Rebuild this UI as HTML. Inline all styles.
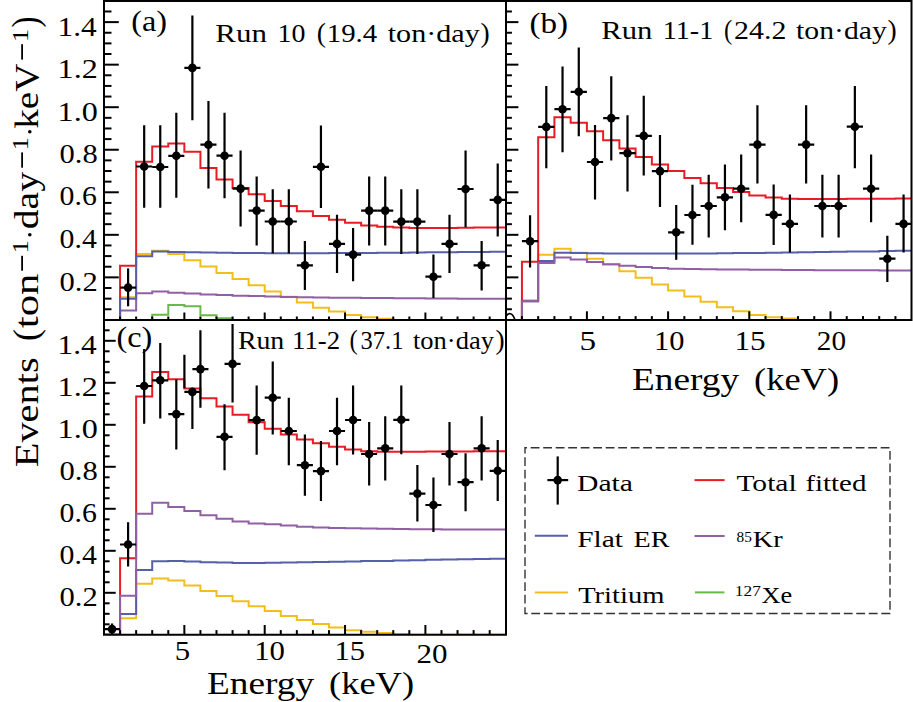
<!DOCTYPE html>
<html><head><meta charset="utf-8"><style>html,body{margin:0;padding:0;background:#fff;overflow:hidden;width:913px;height:702px;}svg{display:block;}text{font-family:"Liberation Serif",serif;}</style></head><body>
<svg width="913" height="702" viewBox="0 0 913 702">
<rect width="913" height="702" fill="#fff"/>
<defs><clipPath id="ca"><rect x="104" y="1" width="401.7" height="319"/></clipPath><clipPath id="cb"><rect x="505.7" y="1" width="405.8" height="319"/></clipPath><clipPath id="cc"><rect x="104" y="320" width="401.7" height="314.8"/></clipPath></defs>
<g clip-path="url(#ca)">
<path d="M104.00,319.90 L120.07,319.90 L120.07,319.90 L136.14,319.90 L136.14,319.90 L152.21,319.90 L152.21,314.80 L168.28,314.80 L168.28,305.01 L184.35,305.01 L184.35,306.29 L200.42,306.29 L200.42,315.22 L216.49,315.22 L216.49,318.20 L232.56,318.20 L232.56,319.90 L248.63,319.90 L248.63,319.90 L264.70,319.90 L264.70,319.90 L280.77,319.90 L280.77,319.90 L296.84,319.90 L296.84,319.90 L312.91,319.90 L312.91,319.90 L328.98,319.90 L328.98,319.90 L345.05,319.90 L345.05,319.90 L361.12,319.90 L361.12,319.90 L377.19,319.90 L377.19,319.90 L393.26,319.90 L393.26,319.90 L409.33,319.90 L409.33,319.90 L425.40,319.90 L425.40,319.90 L441.47,319.90 L441.47,319.90 L457.54,319.90 L457.54,319.90 L473.61,319.90 L473.61,319.90 L489.68,319.90 L489.68,319.90 L505.75,319.90" fill="none" stroke="#6ab845" stroke-width="2.0" stroke-linejoin="miter"/>
<path d="M104.00,319.90 L120.07,319.90 L120.07,297.14 L136.14,297.14 L136.14,253.96 L152.21,253.96 L152.21,250.77 L168.28,250.77 L168.28,253.96 L184.35,253.96 L184.35,260.13 L200.42,260.13 L200.42,266.51 L216.49,266.51 L216.49,272.89 L232.56,272.89 L232.56,279.06 L248.63,279.06 L248.63,285.23 L264.70,285.23 L264.70,291.61 L280.77,291.61 L280.77,296.72 L296.84,296.72 L296.84,302.46 L312.91,302.46 L312.91,307.78 L328.98,307.78 L328.98,311.60 L345.05,311.60 L345.05,315.01 L361.12,315.01 L361.12,317.35 L377.19,317.35 L377.19,318.84 L393.26,318.84 L393.26,319.90 L409.33,319.90 L409.33,319.90 L425.40,319.90 L425.40,319.90 L441.47,319.90 L441.47,319.90 L457.54,319.90 L457.54,319.90 L473.61,319.90 L473.61,319.90 L489.68,319.90 L489.68,319.90 L505.75,319.90" fill="none" stroke="#f2be1e" stroke-width="2.0" stroke-linejoin="miter"/>
<path d="M104.00,319.90 L120.07,319.90 L120.07,310.54 L136.14,310.54 L136.14,293.31 L152.21,293.31 L152.21,291.61 L168.28,291.61 L168.28,292.67 L184.35,292.67 L184.35,293.53 L200.42,293.53 L200.42,294.38 L216.49,294.38 L216.49,295.01 L232.56,295.01 L232.56,295.65 L248.63,295.65 L248.63,296.08 L264.70,296.08 L264.70,296.50 L280.77,296.50 L280.77,296.93 L296.84,296.93 L296.84,297.35 L312.91,297.35 L312.91,297.57 L328.98,297.57 L328.98,297.78 L345.05,297.78 L345.05,297.78 L361.12,297.78 L361.12,297.99 L377.19,297.99 L377.19,297.99 L393.26,297.99 L393.26,298.20 L409.33,298.20 L409.33,298.20 L425.40,298.20 L425.40,298.42 L441.47,298.42 L441.47,298.42 L457.54,298.42 L457.54,298.63 L473.61,298.63 L473.61,298.63 L489.68,298.63 L489.68,298.63 L505.75,298.63" fill="none" stroke="#9160a4" stroke-width="2.0" stroke-linejoin="miter"/>
<path d="M104.00,319.90 L120.07,319.90 L120.07,265.66 L136.14,265.66 L136.14,161.65 L152.21,161.65 L152.21,146.55 L168.28,146.55 L168.28,143.57 L184.35,143.57 L184.35,151.65 L200.42,151.65 L200.42,168.03 L216.49,168.03 L216.49,179.52 L232.56,179.52 L232.56,188.03 L248.63,188.03 L248.63,194.19 L264.70,194.19 L264.70,201.00 L280.77,201.00 L280.77,206.11 L296.84,206.11 L296.84,211.21 L312.91,211.21 L312.91,215.89 L328.98,215.89 L328.98,219.72 L345.05,219.72 L345.05,222.70 L361.12,222.70 L361.12,225.46 L377.19,225.46 L377.19,226.74 L393.26,226.74 L393.26,227.59 L409.33,227.59 L409.33,228.01 L425.40,228.01 L425.40,228.01 L441.47,228.01 L441.47,228.01 L457.54,228.01 L457.54,227.80 L473.61,227.80 L473.61,227.59 L489.68,227.59 L489.68,227.38 L505.75,227.38" fill="none" stroke="#e81c24" stroke-width="2.0" stroke-linejoin="miter"/>
<path d="M104.00,319.90 L120.07,319.90 L120.07,298.63 L136.14,298.63 L136.14,256.30 L152.21,256.30 L152.21,251.62 L168.28,251.62 L168.28,252.05 L184.35,252.05 L184.35,252.26 L200.42,252.26 L200.42,252.47 L216.49,252.47 L216.49,252.69 L232.56,252.69 L232.56,252.90 L248.63,252.90 L248.63,253.11 L264.70,253.11 L264.70,253.32 L280.77,253.32 L280.77,253.32 L296.84,253.32 L296.84,253.32 L312.91,253.32 L312.91,253.32 L328.98,253.32 L328.98,253.11 L345.05,253.11 L345.05,252.90 L361.12,252.90 L361.12,252.90 L377.19,252.90 L377.19,252.69 L393.26,252.69 L393.26,252.69 L409.33,252.69 L409.33,252.47 L425.40,252.47 L425.40,252.26 L441.47,252.26 L441.47,252.26 L457.54,252.26 L457.54,252.05 L473.61,252.05 L473.61,252.05 L489.68,252.05 L489.68,251.84 L505.75,251.84" fill="none" stroke="#5660a9" stroke-width="2.0" stroke-linejoin="miter"/>
<g stroke="#000" fill="#000" stroke-width="2.2"><line x1="120.07" y1="287.60" x2="136.14" y2="287.60"/><line x1="128.10" y1="268.40" x2="128.10" y2="306.30"/><circle cx="128.10" cy="287.60" r="4.3" stroke="none"/><line x1="136.14" y1="166.50" x2="152.21" y2="166.50"/><line x1="144.18" y1="125.30" x2="144.18" y2="207.80"/><circle cx="144.18" cy="166.50" r="4.3" stroke="none"/><line x1="152.21" y1="167.00" x2="168.28" y2="167.00"/><line x1="160.25" y1="125.30" x2="160.25" y2="207.80"/><circle cx="160.25" cy="167.00" r="4.3" stroke="none"/><line x1="168.28" y1="155.80" x2="184.35" y2="155.80"/><line x1="176.31" y1="112.80" x2="176.31" y2="197.70"/><circle cx="176.31" cy="155.80" r="4.3" stroke="none"/><line x1="184.35" y1="67.90" x2="200.42" y2="67.90"/><line x1="192.38" y1="15.50" x2="192.38" y2="120.30"/><circle cx="192.38" cy="67.90" r="4.3" stroke="none"/><line x1="200.42" y1="144.70" x2="216.49" y2="144.70"/><line x1="208.45" y1="100.90" x2="208.45" y2="188.60"/><circle cx="208.45" cy="144.70" r="4.3" stroke="none"/><line x1="216.49" y1="155.70" x2="232.56" y2="155.70"/><line x1="224.53" y1="112.80" x2="224.53" y2="198.30"/><circle cx="224.53" cy="155.70" r="4.3" stroke="none"/><line x1="232.56" y1="188.60" x2="248.63" y2="188.60"/><line x1="240.59" y1="150.50" x2="240.59" y2="226.50"/><circle cx="240.59" cy="188.60" r="4.3" stroke="none"/><line x1="248.63" y1="210.60" x2="264.70" y2="210.60"/><line x1="256.66" y1="176.40" x2="256.66" y2="245.40"/><circle cx="256.66" cy="210.60" r="4.3" stroke="none"/><line x1="264.70" y1="221.50" x2="280.77" y2="221.50"/><line x1="272.74" y1="189.20" x2="272.74" y2="253.40"/><circle cx="272.74" cy="221.50" r="4.3" stroke="none"/><line x1="280.77" y1="221.50" x2="296.84" y2="221.50"/><line x1="288.81" y1="189.20" x2="288.81" y2="253.40"/><circle cx="288.81" cy="221.50" r="4.3" stroke="none"/><line x1="296.84" y1="265.30" x2="312.91" y2="265.30"/><line x1="304.88" y1="240.90" x2="304.88" y2="290.00"/><circle cx="304.88" cy="265.30" r="4.3" stroke="none"/><line x1="312.91" y1="166.80" x2="328.98" y2="166.80"/><line x1="320.94" y1="125.40" x2="320.94" y2="207.90"/><circle cx="320.94" cy="166.80" r="4.3" stroke="none"/><line x1="328.98" y1="243.90" x2="345.05" y2="243.90"/><line x1="337.01" y1="214.70" x2="337.01" y2="272.90"/><circle cx="337.01" cy="243.90" r="4.3" stroke="none"/><line x1="345.05" y1="254.60" x2="361.12" y2="254.60"/><line x1="353.09" y1="227.90" x2="353.09" y2="281.30"/><circle cx="353.09" cy="254.60" r="4.3" stroke="none"/><line x1="361.12" y1="210.60" x2="377.19" y2="210.60"/><line x1="369.16" y1="176.40" x2="369.16" y2="245.50"/><circle cx="369.16" cy="210.60" r="4.3" stroke="none"/><line x1="377.19" y1="210.60" x2="393.26" y2="210.60"/><line x1="385.23" y1="176.40" x2="385.23" y2="245.50"/><circle cx="385.23" cy="210.60" r="4.3" stroke="none"/><line x1="393.26" y1="221.60" x2="409.33" y2="221.60"/><line x1="401.30" y1="189.20" x2="401.30" y2="253.90"/><circle cx="401.30" cy="221.60" r="4.3" stroke="none"/><line x1="409.33" y1="221.60" x2="425.40" y2="221.60"/><line x1="417.37" y1="189.20" x2="417.37" y2="253.90"/><circle cx="417.37" cy="221.60" r="4.3" stroke="none"/><line x1="425.40" y1="276.70" x2="441.47" y2="276.70"/><line x1="433.44" y1="254.60" x2="433.44" y2="297.90"/><circle cx="433.44" cy="276.70" r="4.3" stroke="none"/><line x1="441.47" y1="243.90" x2="457.54" y2="243.90"/><line x1="449.50" y1="214.70" x2="449.50" y2="272.90"/><circle cx="449.50" cy="243.90" r="4.3" stroke="none"/><line x1="457.54" y1="189.00" x2="473.61" y2="189.00"/><line x1="465.57" y1="150.50" x2="465.57" y2="227.30"/><circle cx="465.57" cy="189.00" r="4.3" stroke="none"/><line x1="473.61" y1="265.30" x2="489.68" y2="265.30"/><line x1="481.64" y1="240.90" x2="481.64" y2="290.40"/><circle cx="481.64" cy="265.30" r="4.3" stroke="none"/><line x1="489.68" y1="199.90" x2="505.75" y2="199.90"/><line x1="497.72" y1="163.40" x2="497.72" y2="236.40"/><circle cx="497.72" cy="199.90" r="4.3" stroke="none"/></g>
</g>
<g clip-path="url(#cb)">
<path d="M505.70,319.90 L521.94,319.90 L521.94,300.33 L538.18,300.33 L538.18,254.81 L554.42,254.81 L554.42,248.86 L570.66,248.86 L570.66,252.69 L586.90,252.69 L586.90,258.64 L603.14,258.64 L603.14,264.60 L619.38,264.60 L619.38,271.19 L635.62,271.19 L635.62,277.79 L651.86,277.79 L651.86,284.38 L668.10,284.38 L668.10,290.55 L684.34,290.55 L684.34,296.50 L700.58,296.50 L700.58,301.82 L716.82,301.82 L716.82,307.14 L733.06,307.14 L733.06,311.18 L749.30,311.18 L749.30,315.01 L765.54,315.01 L765.54,317.35 L781.78,317.35 L781.78,318.41 L798.02,318.41 L798.02,319.90 L814.26,319.90 L814.26,319.90 L830.50,319.90 L830.50,319.90 L846.74,319.90 L846.74,319.90 L862.98,319.90 L862.98,319.90 L879.22,319.90 L879.22,319.90 L895.46,319.90 L895.46,319.90 L911.70,319.90" fill="none" stroke="#f2be1e" stroke-width="2.0" stroke-linejoin="miter"/>
<path d="M505.70,319.90 L521.94,319.90 L521.94,301.18 L538.18,301.18 L538.18,260.98 L554.42,260.98 L554.42,252.69 L570.66,252.69 L570.66,253.11 L586.90,253.11 L586.90,253.32 L603.14,253.32 L603.14,253.54 L619.38,253.54 L619.38,253.54 L635.62,253.54 L635.62,253.54 L651.86,253.54 L651.86,253.54 L668.10,253.54 L668.10,253.54 L684.34,253.54 L684.34,253.54 L700.58,253.54 L700.58,253.54 L716.82,253.54 L716.82,253.32 L733.06,253.32 L733.06,253.11 L749.30,253.11 L749.30,252.90 L765.54,252.90 L765.54,252.69 L781.78,252.69 L781.78,252.47 L798.02,252.47 L798.02,252.26 L814.26,252.26 L814.26,252.05 L830.50,252.05 L830.50,251.84 L846.74,251.84 L846.74,251.62 L862.98,251.62 L862.98,251.41 L879.22,251.41 L879.22,250.99 L895.46,250.99 L895.46,250.77 L911.70,250.77" fill="none" stroke="#5660a9" stroke-width="2.0" stroke-linejoin="miter"/>
<path d="M505.70,319.90 L521.94,319.90 L521.94,261.83 L538.18,261.83 L538.18,137.19 L554.42,137.19 L554.42,117.20 L570.66,117.20 L570.66,122.73 L586.90,122.73 L586.90,131.24 L603.14,131.24 L603.14,140.17 L619.38,140.17 L619.38,148.46 L635.62,148.46 L635.62,156.97 L651.86,156.97 L651.86,164.42 L668.10,164.42 L668.10,171.01 L684.34,171.01 L684.34,178.03 L700.58,178.03 L700.58,183.13 L716.82,183.13 L716.82,188.03 L733.06,188.03 L733.06,192.07 L749.30,192.07 L749.30,195.47 L765.54,195.47 L765.54,197.60 L781.78,197.60 L781.78,198.87 L798.02,198.87 L798.02,199.09 L814.26,199.09 L814.26,199.09 L830.50,199.09 L830.50,199.09 L846.74,199.09 L846.74,198.87 L862.98,198.87 L862.98,198.87 L879.22,198.87 L879.22,198.66 L895.46,198.66 L895.46,198.45 L911.70,198.45" fill="none" stroke="#e81c24" stroke-width="2.0" stroke-linejoin="miter"/>
<path d="M505.70,319.90 L521.94,319.90 L521.94,301.18 L538.18,301.18 L538.18,262.90 L554.42,262.90 L554.42,257.58 L570.66,257.58 L570.66,259.49 L586.90,259.49 L586.90,262.05 L603.14,262.05 L603.14,264.17 L619.38,264.17 L619.38,265.66 L635.62,265.66 L635.62,266.94 L651.86,266.94 L651.86,268.00 L668.10,268.00 L668.10,268.64 L684.34,268.64 L684.34,269.06 L700.58,269.06 L700.58,269.28 L716.82,269.28 L716.82,269.49 L733.06,269.49 L733.06,269.49 L749.30,269.49 L749.30,269.70 L765.54,269.70 L765.54,269.70 L781.78,269.70 L781.78,269.92 L798.02,269.92 L798.02,269.92 L814.26,269.92 L814.26,270.13 L830.50,270.13 L830.50,270.13 L846.74,270.13 L846.74,270.34 L862.98,270.34 L862.98,270.34 L879.22,270.34 L879.22,270.55 L895.46,270.55 L895.46,270.55 L911.70,270.55" fill="none" stroke="#9160a4" stroke-width="2.0" stroke-linejoin="miter"/>
<g stroke="#000" fill="#000" stroke-width="2.2"><line x1="521.94" y1="241.20" x2="538.18" y2="241.20"/><line x1="530.06" y1="215.20" x2="530.06" y2="267.50"/><circle cx="530.06" cy="241.20" r="4.3" stroke="none"/><line x1="538.18" y1="126.90" x2="554.42" y2="126.90"/><line x1="546.30" y1="86.10" x2="546.30" y2="168.30"/><circle cx="546.30" cy="126.90" r="4.3" stroke="none"/><line x1="554.42" y1="109.20" x2="570.66" y2="109.20"/><line x1="562.54" y1="66.50" x2="562.54" y2="152.30"/><circle cx="562.54" cy="109.20" r="4.3" stroke="none"/><line x1="570.66" y1="91.80" x2="586.90" y2="91.80"/><line x1="578.78" y1="47.40" x2="578.78" y2="136.30"/><circle cx="578.78" cy="91.80" r="4.3" stroke="none"/><line x1="586.90" y1="162.00" x2="603.14" y2="162.00"/><line x1="595.02" y1="125.00" x2="595.02" y2="199.50"/><circle cx="595.02" cy="162.00" r="4.3" stroke="none"/><line x1="603.14" y1="118.10" x2="619.38" y2="118.10"/><line x1="611.26" y1="76.30" x2="611.26" y2="160.40"/><circle cx="611.26" cy="118.10" r="4.3" stroke="none"/><line x1="619.38" y1="153.10" x2="635.62" y2="153.10"/><line x1="627.50" y1="115.20" x2="627.50" y2="191.60"/><circle cx="627.50" cy="153.10" r="4.3" stroke="none"/><line x1="635.62" y1="135.90" x2="651.86" y2="135.90"/><line x1="643.74" y1="95.70" x2="643.74" y2="175.60"/><circle cx="643.74" cy="135.90" r="4.3" stroke="none"/><line x1="651.86" y1="171.10" x2="668.10" y2="171.10"/><line x1="659.98" y1="135.10" x2="659.98" y2="207.10"/><circle cx="659.98" cy="171.10" r="4.3" stroke="none"/><line x1="668.10" y1="232.30" x2="684.34" y2="232.30"/><line x1="676.22" y1="205.00" x2="676.22" y2="259.80"/><circle cx="676.22" cy="232.30" r="4.3" stroke="none"/><line x1="684.34" y1="215.00" x2="700.58" y2="215.00"/><line x1="692.46" y1="184.70" x2="692.46" y2="244.80"/><circle cx="692.46" cy="215.00" r="4.3" stroke="none"/><line x1="700.58" y1="206.00" x2="716.82" y2="206.00"/><line x1="708.70" y1="174.70" x2="708.70" y2="237.50"/><circle cx="708.70" cy="206.00" r="4.3" stroke="none"/><line x1="716.82" y1="197.30" x2="733.06" y2="197.30"/><line x1="724.94" y1="164.40" x2="724.94" y2="230.20"/><circle cx="724.94" cy="197.30" r="4.3" stroke="none"/><line x1="733.06" y1="188.70" x2="749.30" y2="188.70"/><line x1="741.18" y1="154.50" x2="741.18" y2="222.30"/><circle cx="741.18" cy="188.70" r="4.3" stroke="none"/><line x1="749.30" y1="144.60" x2="765.54" y2="144.60"/><line x1="757.42" y1="105.20" x2="757.42" y2="183.50"/><circle cx="757.42" cy="144.60" r="4.3" stroke="none"/><line x1="765.54" y1="214.90" x2="781.78" y2="214.90"/><line x1="773.66" y1="184.60" x2="773.66" y2="245.10"/><circle cx="773.66" cy="214.90" r="4.3" stroke="none"/><line x1="781.78" y1="223.90" x2="798.02" y2="223.90"/><line x1="789.90" y1="194.60" x2="789.90" y2="252.40"/><circle cx="789.90" cy="223.90" r="4.3" stroke="none"/><line x1="798.02" y1="144.60" x2="814.26" y2="144.60"/><line x1="806.14" y1="105.20" x2="806.14" y2="183.50"/><circle cx="806.14" cy="144.60" r="4.3" stroke="none"/><line x1="814.26" y1="206.00" x2="830.50" y2="206.00"/><line x1="822.38" y1="174.70" x2="822.38" y2="237.50"/><circle cx="822.38" cy="206.00" r="4.3" stroke="none"/><line x1="830.50" y1="206.00" x2="846.74" y2="206.00"/><line x1="838.62" y1="174.70" x2="838.62" y2="237.50"/><circle cx="838.62" cy="206.00" r="4.3" stroke="none"/><line x1="846.74" y1="126.70" x2="862.98" y2="126.70"/><line x1="854.86" y1="85.90" x2="854.86" y2="168.20"/><circle cx="854.86" cy="126.70" r="4.3" stroke="none"/><line x1="862.98" y1="188.70" x2="879.22" y2="188.70"/><line x1="871.10" y1="154.50" x2="871.10" y2="222.30"/><circle cx="871.10" cy="188.70" r="4.3" stroke="none"/><line x1="879.22" y1="258.70" x2="895.46" y2="258.70"/><line x1="887.34" y1="235.70" x2="887.34" y2="282.00"/><circle cx="887.34" cy="258.70" r="4.3" stroke="none"/><line x1="895.46" y1="223.90" x2="911.70" y2="223.90"/><line x1="903.58" y1="194.60" x2="903.58" y2="252.40"/><circle cx="903.58" cy="223.90" r="4.3" stroke="none"/></g>
</g>
<path d="M506.6,315.6 C508.2,312.6 512.6,312.2 514.8,319.6" fill="none" stroke="#000" stroke-width="1.7"/>
<g clip-path="url(#cc)">
<path d="M104.00,634.80 L120.07,634.80 L120.07,618.21 L136.14,618.21 L136.14,583.77 L152.21,583.77 L152.21,578.52 L168.28,578.52 L168.28,580.62 L184.35,580.62 L184.35,585.45 L200.42,585.45 L200.42,590.91 L216.49,590.91 L216.49,595.95 L232.56,595.95 L232.56,601.20 L248.63,601.20 L248.63,606.24 L264.70,606.24 L264.70,611.07 L280.77,611.07 L280.77,615.90 L296.84,615.90 L296.84,619.89 L312.91,619.89 L312.91,624.09 L328.98,624.09 L328.98,627.45 L345.05,627.45 L345.05,630.18 L361.12,630.18 L361.12,631.86 L377.19,631.86 L377.19,632.91 L393.26,632.91 L393.26,633.96 L409.33,633.96 L409.33,634.80 L425.40,634.80 L425.40,634.80 L441.47,634.80 L441.47,634.80 L457.54,634.80 L457.54,634.80 L473.61,634.80 L473.61,634.80 L489.68,634.80 L489.68,634.80 L505.75,634.80" fill="none" stroke="#f2be1e" stroke-width="2.0" stroke-linejoin="miter"/>
<path d="M104.00,634.80 L120.07,634.80 L120.07,614.01 L136.14,614.01 L136.14,569.91 L152.21,569.91 L152.21,561.30 L168.28,561.30 L168.28,560.88 L184.35,560.88 L184.35,561.51 L200.42,561.51 L200.42,562.14 L216.49,562.14 L216.49,562.56 L232.56,562.56 L232.56,562.98 L248.63,562.98 L248.63,562.98 L264.70,562.98 L264.70,562.77 L280.77,562.77 L280.77,562.56 L296.84,562.56 L296.84,562.35 L312.91,562.35 L312.91,561.93 L328.98,561.93 L328.98,561.72 L345.05,561.72 L345.05,561.51 L361.12,561.51 L361.12,561.09 L377.19,561.09 L377.19,560.88 L393.26,560.88 L393.26,560.46 L409.33,560.46 L409.33,560.25 L425.40,560.25 L425.40,559.83 L441.47,559.83 L441.47,559.62 L457.54,559.62 L457.54,559.20 L473.61,559.20 L473.61,558.99 L489.68,558.99 L489.68,558.78 L505.75,558.78" fill="none" stroke="#5660a9" stroke-width="2.0" stroke-linejoin="miter"/>
<path d="M104.00,634.80 L120.07,634.80 L120.07,558.15 L136.14,558.15 L136.14,396.45 L152.21,396.45 L152.21,372.09 L168.28,372.09 L168.28,379.23 L184.35,379.23 L184.35,388.47 L200.42,388.47 L200.42,398.13 L216.49,398.13 L216.49,406.53 L232.56,406.53 L232.56,414.72 L248.63,414.72 L248.63,422.28 L264.70,422.28 L264.70,428.79 L280.77,428.79 L280.77,434.46 L296.84,434.46 L296.84,439.50 L312.91,439.50 L312.91,443.28 L328.98,443.28 L328.98,446.64 L345.05,446.64 L345.05,449.58 L361.12,449.58 L361.12,451.26 L377.19,451.26 L377.19,451.68 L393.26,451.68 L393.26,451.68 L409.33,451.68 L409.33,451.68 L425.40,451.68 L425.40,451.47 L441.47,451.47 L441.47,451.47 L457.54,451.47 L457.54,451.47 L473.61,451.47 L473.61,451.26 L489.68,451.26 L489.68,451.26 L505.75,451.26" fill="none" stroke="#e81c24" stroke-width="2.0" stroke-linejoin="miter"/>
<path d="M104.00,634.80 L120.07,634.80 L120.07,595.74 L136.14,595.74 L136.14,513.63 L152.21,513.63 L152.21,502.71 L168.28,502.71 L168.28,506.91 L184.35,506.91 L184.35,511.11 L200.42,511.11 L200.42,515.31 L216.49,515.31 L216.49,518.67 L232.56,518.67 L232.56,521.40 L248.63,521.40 L248.63,523.50 L264.70,523.50 L264.70,524.34 L280.77,524.34 L280.77,525.60 L296.84,525.60 L296.84,526.65 L312.91,526.65 L312.91,527.49 L328.98,527.49 L328.98,527.91 L345.05,527.91 L345.05,528.33 L361.12,528.33 L361.12,528.54 L377.19,528.54 L377.19,528.75 L393.26,528.75 L393.26,528.96 L409.33,528.96 L409.33,529.17 L425.40,529.17 L425.40,529.17 L441.47,529.17 L441.47,529.38 L457.54,529.38 L457.54,529.38 L473.61,529.38 L473.61,529.59 L489.68,529.59 L489.68,529.59 L505.75,529.59" fill="none" stroke="#9160a4" stroke-width="2.0" stroke-linejoin="miter"/>
<g stroke="#000" fill="#000" stroke-width="2.2"><line x1="104.00" y1="629.10" x2="120.07" y2="629.10"/><line x1="112.03" y1="623.40" x2="112.03" y2="634.80"/><circle cx="112.03" cy="629.10" r="4.3" stroke="none"/><line x1="120.07" y1="544.50" x2="136.14" y2="544.50"/><line x1="128.10" y1="522.20" x2="128.10" y2="566.60"/><circle cx="128.10" cy="544.50" r="4.3" stroke="none"/><line x1="136.14" y1="386.00" x2="152.21" y2="386.00"/><line x1="144.18" y1="348.90" x2="144.18" y2="423.70"/><circle cx="144.18" cy="386.00" r="4.3" stroke="none"/><line x1="152.21" y1="380.30" x2="168.28" y2="380.30"/><line x1="160.25" y1="342.90" x2="160.25" y2="418.50"/><circle cx="160.25" cy="380.30" r="4.3" stroke="none"/><line x1="168.28" y1="414.10" x2="184.35" y2="414.10"/><line x1="176.31" y1="379.40" x2="176.31" y2="449.50"/><circle cx="176.31" cy="414.10" r="4.3" stroke="none"/><line x1="184.35" y1="391.90" x2="200.42" y2="391.90"/><line x1="192.38" y1="391.90" x2="192.38" y2="429.00"/><circle cx="192.38" cy="391.90" r="4.3" stroke="none"/><line x1="192.39" y1="369.10" x2="208.46" y2="369.10"/><line x1="200.42" y1="330.30" x2="200.42" y2="407.70"/><circle cx="200.42" cy="369.10" r="4.3" stroke="none"/><line x1="216.49" y1="436.80" x2="232.56" y2="436.80"/><line x1="224.53" y1="404.20" x2="224.53" y2="470.30"/><circle cx="224.53" cy="436.80" r="4.3" stroke="none"/><line x1="224.53" y1="363.90" x2="240.59" y2="363.90"/><line x1="232.56" y1="324.10" x2="232.56" y2="402.50"/><circle cx="232.56" cy="363.90" r="4.3" stroke="none"/><line x1="248.63" y1="420.10" x2="264.70" y2="420.10"/><line x1="256.66" y1="385.50" x2="256.66" y2="454.70"/><circle cx="256.66" cy="420.10" r="4.3" stroke="none"/><line x1="264.70" y1="397.70" x2="280.77" y2="397.70"/><line x1="272.74" y1="361.50" x2="272.74" y2="434.40"/><circle cx="272.74" cy="397.70" r="4.3" stroke="none"/><line x1="280.77" y1="431.00" x2="296.84" y2="431.00"/><line x1="288.81" y1="397.70" x2="288.81" y2="465.20"/><circle cx="288.81" cy="431.00" r="4.3" stroke="none"/><line x1="296.84" y1="465.20" x2="312.91" y2="465.20"/><line x1="304.88" y1="434.40" x2="304.88" y2="495.80"/><circle cx="304.88" cy="465.20" r="4.3" stroke="none"/><line x1="312.91" y1="471.10" x2="328.98" y2="471.10"/><line x1="320.94" y1="441.00" x2="320.94" y2="501.10"/><circle cx="320.94" cy="471.10" r="4.3" stroke="none"/><line x1="328.98" y1="431.00" x2="345.05" y2="431.00"/><line x1="337.01" y1="397.70" x2="337.01" y2="465.20"/><circle cx="337.01" cy="431.00" r="4.3" stroke="none"/><line x1="345.05" y1="420.00" x2="361.12" y2="420.00"/><line x1="353.09" y1="385.40" x2="353.09" y2="454.60"/><circle cx="353.09" cy="420.00" r="4.3" stroke="none"/><line x1="361.12" y1="454.00" x2="377.19" y2="454.00"/><line x1="369.16" y1="422.10" x2="369.16" y2="485.60"/><circle cx="369.16" cy="454.00" r="4.3" stroke="none"/><line x1="377.19" y1="448.30" x2="393.26" y2="448.30"/><line x1="385.23" y1="416.20" x2="385.23" y2="480.60"/><circle cx="385.23" cy="448.30" r="4.3" stroke="none"/><line x1="393.26" y1="419.80" x2="409.33" y2="419.80"/><line x1="401.30" y1="385.40" x2="401.30" y2="454.30"/><circle cx="401.30" cy="419.80" r="4.3" stroke="none"/><line x1="409.33" y1="493.60" x2="425.40" y2="493.60"/><line x1="417.37" y1="465.10" x2="417.37" y2="521.40"/><circle cx="417.37" cy="493.60" r="4.3" stroke="none"/><line x1="425.40" y1="505.00" x2="441.47" y2="505.00"/><line x1="433.44" y1="477.50" x2="433.44" y2="531.90"/><circle cx="433.44" cy="505.00" r="4.3" stroke="none"/><line x1="441.47" y1="454.00" x2="457.54" y2="454.00"/><line x1="449.50" y1="422.10" x2="449.50" y2="485.60"/><circle cx="449.50" cy="454.00" r="4.3" stroke="none"/><line x1="457.54" y1="482.20" x2="473.61" y2="482.20"/><line x1="465.57" y1="453.20" x2="465.57" y2="511.30"/><circle cx="465.57" cy="482.20" r="4.3" stroke="none"/><line x1="473.61" y1="448.30" x2="489.68" y2="448.30"/><line x1="481.64" y1="416.20" x2="481.64" y2="480.60"/><circle cx="481.64" cy="448.30" r="4.3" stroke="none"/><line x1="489.68" y1="470.80" x2="505.75" y2="470.80"/><line x1="497.72" y1="440.10" x2="497.72" y2="501.10"/><circle cx="497.72" cy="470.80" r="4.3" stroke="none"/></g>
<line x1="184.4" y1="354.8" x2="184.4" y2="388.2" stroke="#000" stroke-width="2.2"/>
</g>
<g stroke="#000" stroke-width="2" fill="none">
<path d="M103,1 L912.5,1 M104,320 L912.5,320 M104,0 L104,635.8 M506.0,0 L506.0,635.8 M911.5,0 L911.5,321 M103,634.8 L506.7,634.8"/>
<line x1="104.00" y1="309.26" x2="111.50" y2="309.26"/><line x1="104.00" y1="298.63" x2="111.50" y2="298.63"/><line x1="104.00" y1="287.99" x2="111.50" y2="287.99"/><line x1="104.00" y1="277.36" x2="118.80" y2="277.36"/><line x1="104.00" y1="266.72" x2="111.50" y2="266.72"/><line x1="104.00" y1="256.09" x2="111.50" y2="256.09"/><line x1="104.00" y1="245.45" x2="111.50" y2="245.45"/><line x1="104.00" y1="234.82" x2="118.80" y2="234.82"/><line x1="104.00" y1="224.18" x2="111.50" y2="224.18"/><line x1="104.00" y1="213.55" x2="111.50" y2="213.55"/><line x1="104.00" y1="202.91" x2="111.50" y2="202.91"/><line x1="104.00" y1="192.28" x2="118.80" y2="192.28"/><line x1="104.00" y1="181.64" x2="111.50" y2="181.64"/><line x1="104.00" y1="171.01" x2="111.50" y2="171.01"/><line x1="104.00" y1="160.38" x2="111.50" y2="160.38"/><line x1="104.00" y1="149.74" x2="118.80" y2="149.74"/><line x1="104.00" y1="139.10" x2="111.50" y2="139.10"/><line x1="104.00" y1="128.47" x2="111.50" y2="128.47"/><line x1="104.00" y1="117.83" x2="111.50" y2="117.83"/><line x1="104.00" y1="107.20" x2="118.80" y2="107.20"/><line x1="104.00" y1="96.56" x2="111.50" y2="96.56"/><line x1="104.00" y1="85.93" x2="111.50" y2="85.93"/><line x1="104.00" y1="75.29" x2="111.50" y2="75.29"/><line x1="104.00" y1="64.66" x2="118.80" y2="64.66"/><line x1="104.00" y1="54.02" x2="111.50" y2="54.02"/><line x1="104.00" y1="43.39" x2="111.50" y2="43.39"/><line x1="104.00" y1="32.75" x2="111.50" y2="32.75"/><line x1="104.00" y1="22.12" x2="118.80" y2="22.12"/><line x1="104.00" y1="11.48" x2="111.50" y2="11.48"/>
<line x1="506.00" y1="309.26" x2="511.90" y2="309.26"/><line x1="506.00" y1="298.63" x2="511.90" y2="298.63"/><line x1="506.00" y1="287.99" x2="511.90" y2="287.99"/><line x1="506.00" y1="277.36" x2="518.40" y2="277.36"/><line x1="506.00" y1="266.72" x2="511.90" y2="266.72"/><line x1="506.00" y1="256.09" x2="511.90" y2="256.09"/><line x1="506.00" y1="245.45" x2="511.90" y2="245.45"/><line x1="506.00" y1="234.82" x2="518.40" y2="234.82"/><line x1="506.00" y1="224.18" x2="511.90" y2="224.18"/><line x1="506.00" y1="213.55" x2="511.90" y2="213.55"/><line x1="506.00" y1="202.91" x2="511.90" y2="202.91"/><line x1="506.00" y1="192.28" x2="518.40" y2="192.28"/><line x1="506.00" y1="181.64" x2="511.90" y2="181.64"/><line x1="506.00" y1="171.01" x2="511.90" y2="171.01"/><line x1="506.00" y1="160.38" x2="511.90" y2="160.38"/><line x1="506.00" y1="149.74" x2="518.40" y2="149.74"/><line x1="506.00" y1="139.10" x2="511.90" y2="139.10"/><line x1="506.00" y1="128.47" x2="511.90" y2="128.47"/><line x1="506.00" y1="117.83" x2="511.90" y2="117.83"/><line x1="506.00" y1="107.20" x2="518.40" y2="107.20"/><line x1="506.00" y1="96.56" x2="511.90" y2="96.56"/><line x1="506.00" y1="85.93" x2="511.90" y2="85.93"/><line x1="506.00" y1="75.29" x2="511.90" y2="75.29"/><line x1="506.00" y1="64.66" x2="518.40" y2="64.66"/><line x1="506.00" y1="54.02" x2="511.90" y2="54.02"/><line x1="506.00" y1="43.39" x2="511.90" y2="43.39"/><line x1="506.00" y1="32.75" x2="511.90" y2="32.75"/><line x1="506.00" y1="22.12" x2="518.40" y2="22.12"/><line x1="506.00" y1="11.48" x2="511.90" y2="11.48"/>
<line x1="104.00" y1="624.30" x2="109.60" y2="624.30"/><line x1="104.00" y1="613.80" x2="109.60" y2="613.80"/><line x1="104.00" y1="603.30" x2="109.60" y2="603.30"/><line x1="104.00" y1="592.80" x2="115.70" y2="592.80"/><line x1="104.00" y1="582.30" x2="109.60" y2="582.30"/><line x1="104.00" y1="571.80" x2="109.60" y2="571.80"/><line x1="104.00" y1="561.30" x2="109.60" y2="561.30"/><line x1="104.00" y1="550.80" x2="115.70" y2="550.80"/><line x1="104.00" y1="540.30" x2="109.60" y2="540.30"/><line x1="104.00" y1="529.80" x2="109.60" y2="529.80"/><line x1="104.00" y1="519.30" x2="109.60" y2="519.30"/><line x1="104.00" y1="508.80" x2="115.70" y2="508.80"/><line x1="104.00" y1="498.30" x2="109.60" y2="498.30"/><line x1="104.00" y1="487.80" x2="109.60" y2="487.80"/><line x1="104.00" y1="477.30" x2="109.60" y2="477.30"/><line x1="104.00" y1="466.80" x2="115.70" y2="466.80"/><line x1="104.00" y1="456.30" x2="109.60" y2="456.30"/><line x1="104.00" y1="445.80" x2="109.60" y2="445.80"/><line x1="104.00" y1="435.30" x2="109.60" y2="435.30"/><line x1="104.00" y1="424.80" x2="115.70" y2="424.80"/><line x1="104.00" y1="414.30" x2="109.60" y2="414.30"/><line x1="104.00" y1="403.80" x2="109.60" y2="403.80"/><line x1="104.00" y1="393.30" x2="109.60" y2="393.30"/><line x1="104.00" y1="382.80" x2="115.70" y2="382.80"/><line x1="104.00" y1="372.30" x2="109.60" y2="372.30"/><line x1="104.00" y1="361.80" x2="109.60" y2="361.80"/><line x1="104.00" y1="351.30" x2="109.60" y2="351.30"/><line x1="104.00" y1="340.80" x2="115.70" y2="340.80"/><line x1="104.00" y1="330.30" x2="109.60" y2="330.30"/>
<line x1="120.07" y1="320.00" x2="120.07" y2="316.50"/><line x1="136.14" y1="320.00" x2="136.14" y2="316.50"/><line x1="152.21" y1="320.00" x2="152.21" y2="316.50"/><line x1="168.28" y1="320.00" x2="168.28" y2="316.50"/><line x1="184.35" y1="320.00" x2="184.35" y2="312.50"/><line x1="200.42" y1="320.00" x2="200.42" y2="316.50"/><line x1="216.49" y1="320.00" x2="216.49" y2="316.50"/><line x1="232.56" y1="320.00" x2="232.56" y2="316.50"/><line x1="248.63" y1="320.00" x2="248.63" y2="316.50"/><line x1="264.70" y1="320.00" x2="264.70" y2="312.50"/><line x1="280.77" y1="320.00" x2="280.77" y2="316.50"/><line x1="296.84" y1="320.00" x2="296.84" y2="316.50"/><line x1="312.91" y1="320.00" x2="312.91" y2="316.50"/><line x1="328.98" y1="320.00" x2="328.98" y2="316.50"/><line x1="345.05" y1="320.00" x2="345.05" y2="312.50"/><line x1="361.12" y1="320.00" x2="361.12" y2="316.50"/><line x1="377.19" y1="320.00" x2="377.19" y2="316.50"/><line x1="393.26" y1="320.00" x2="393.26" y2="316.50"/><line x1="409.33" y1="320.00" x2="409.33" y2="316.50"/><line x1="425.40" y1="320.00" x2="425.40" y2="312.50"/><line x1="441.47" y1="320.00" x2="441.47" y2="316.50"/><line x1="457.54" y1="320.00" x2="457.54" y2="316.50"/><line x1="473.61" y1="320.00" x2="473.61" y2="316.50"/><line x1="489.68" y1="320.00" x2="489.68" y2="316.50"/>
<line x1="521.94" y1="320.00" x2="521.94" y2="316.10"/><line x1="538.18" y1="320.00" x2="538.18" y2="316.10"/><line x1="554.42" y1="320.00" x2="554.42" y2="316.10"/><line x1="570.66" y1="320.00" x2="570.66" y2="316.10"/><line x1="586.90" y1="320.00" x2="586.90" y2="311.30"/><line x1="603.14" y1="320.00" x2="603.14" y2="316.10"/><line x1="619.38" y1="320.00" x2="619.38" y2="316.10"/><line x1="635.62" y1="320.00" x2="635.62" y2="316.10"/><line x1="651.86" y1="320.00" x2="651.86" y2="316.10"/><line x1="668.10" y1="320.00" x2="668.10" y2="311.30"/><line x1="684.34" y1="320.00" x2="684.34" y2="316.10"/><line x1="700.58" y1="320.00" x2="700.58" y2="316.10"/><line x1="716.82" y1="320.00" x2="716.82" y2="316.10"/><line x1="733.06" y1="320.00" x2="733.06" y2="316.10"/><line x1="749.30" y1="320.00" x2="749.30" y2="311.30"/><line x1="765.54" y1="320.00" x2="765.54" y2="316.10"/><line x1="781.78" y1="320.00" x2="781.78" y2="316.10"/><line x1="798.02" y1="320.00" x2="798.02" y2="316.10"/><line x1="814.26" y1="320.00" x2="814.26" y2="316.10"/><line x1="830.50" y1="320.00" x2="830.50" y2="311.30"/><line x1="846.74" y1="320.00" x2="846.74" y2="316.10"/><line x1="862.98" y1="320.00" x2="862.98" y2="316.10"/><line x1="879.22" y1="320.00" x2="879.22" y2="316.10"/><line x1="895.46" y1="320.00" x2="895.46" y2="316.10"/>
<line x1="120.07" y1="634.80" x2="120.07" y2="630.10"/><line x1="136.14" y1="634.80" x2="136.14" y2="630.10"/><line x1="152.21" y1="634.80" x2="152.21" y2="630.10"/><line x1="168.28" y1="634.80" x2="168.28" y2="630.10"/><line x1="184.35" y1="634.80" x2="184.35" y2="625.00"/><line x1="200.42" y1="634.80" x2="200.42" y2="630.10"/><line x1="216.49" y1="634.80" x2="216.49" y2="630.10"/><line x1="232.56" y1="634.80" x2="232.56" y2="630.10"/><line x1="248.63" y1="634.80" x2="248.63" y2="630.10"/><line x1="264.70" y1="634.80" x2="264.70" y2="625.00"/><line x1="280.77" y1="634.80" x2="280.77" y2="630.10"/><line x1="296.84" y1="634.80" x2="296.84" y2="630.10"/><line x1="312.91" y1="634.80" x2="312.91" y2="630.10"/><line x1="328.98" y1="634.80" x2="328.98" y2="630.10"/><line x1="345.05" y1="634.80" x2="345.05" y2="625.00"/><line x1="361.12" y1="634.80" x2="361.12" y2="630.10"/><line x1="377.19" y1="634.80" x2="377.19" y2="630.10"/><line x1="393.26" y1="634.80" x2="393.26" y2="630.10"/><line x1="409.33" y1="634.80" x2="409.33" y2="630.10"/><line x1="425.40" y1="634.80" x2="425.40" y2="625.00"/><line x1="441.47" y1="634.80" x2="441.47" y2="630.10"/><line x1="457.54" y1="634.80" x2="457.54" y2="630.10"/><line x1="473.61" y1="634.80" x2="473.61" y2="630.10"/><line x1="489.68" y1="634.80" x2="489.68" y2="630.10"/>
</g>
<g class="t" font-family="Liberation Serif" fill="#000">
<text x="59.60" y="291.07" font-size="27.84" textLength="38.20" lengthAdjust="spacingAndGlyphs">0.2</text>
<text x="59.60" y="248.19" font-size="27.84" textLength="37.20" lengthAdjust="spacingAndGlyphs">0.4</text>
<text x="59.60" y="205.31" font-size="27.84" textLength="37.20" lengthAdjust="spacingAndGlyphs">0.6</text>
<text x="59.60" y="163.43" font-size="27.84" textLength="38.20" lengthAdjust="spacingAndGlyphs">0.8</text>
<text x="57.60" y="120.55" font-size="27.84" textLength="40.20" lengthAdjust="spacingAndGlyphs">1.0</text>
<text x="57.60" y="77.67" font-size="27.84" textLength="40.20" lengthAdjust="spacingAndGlyphs">1.2</text>
<text x="57.60" y="35.79" font-size="27.84" textLength="39.20" lengthAdjust="spacingAndGlyphs">1.4</text>
<text x="59.60" y="605.75" font-size="27.84" textLength="38.20" lengthAdjust="spacingAndGlyphs">0.2</text>
<text x="59.60" y="563.75" font-size="27.84" textLength="37.20" lengthAdjust="spacingAndGlyphs">0.4</text>
<text x="59.60" y="521.75" font-size="27.84" textLength="37.20" lengthAdjust="spacingAndGlyphs">0.6</text>
<text x="59.60" y="479.75" font-size="27.84" textLength="38.20" lengthAdjust="spacingAndGlyphs">0.8</text>
<text x="57.60" y="437.75" font-size="27.84" textLength="40.20" lengthAdjust="spacingAndGlyphs">1.0</text>
<text x="57.60" y="395.75" font-size="27.84" textLength="40.20" lengthAdjust="spacingAndGlyphs">1.2</text>
<text x="57.60" y="353.75" font-size="27.84" textLength="39.20" lengthAdjust="spacingAndGlyphs">1.4</text>
<text x="174.80" y="659.80" font-size="27.00" textLength="15.40" lengthAdjust="spacingAndGlyphs">5</text>
<text x="254.20" y="659.80" font-size="27.00" textLength="30.80" lengthAdjust="spacingAndGlyphs">10</text>
<text x="334.40" y="659.80" font-size="27.00" textLength="30.60" lengthAdjust="spacingAndGlyphs">15</text>
<text x="416.60" y="663.00" font-size="27.00" textLength="31.00" lengthAdjust="spacingAndGlyphs">20</text>
<text x="579.40" y="350.20" font-size="27.00" textLength="16.60" lengthAdjust="spacingAndGlyphs">5</text>
<text x="654.00" y="350.20" font-size="27.00" textLength="30.40" lengthAdjust="spacingAndGlyphs">10</text>
<text x="734.40" y="350.20" font-size="27.00" textLength="31.20" lengthAdjust="spacingAndGlyphs">15</text>
<text x="816.80" y="350.20" font-size="27.00" textLength="29.20" lengthAdjust="spacingAndGlyphs">20</text>
<text x="207.10" y="694.10" font-size="32.60" textLength="107.00" lengthAdjust="spacingAndGlyphs">Energy</text>
<text x="329.00" y="694.10" font-size="32.60" textLength="85.10" lengthAdjust="spacingAndGlyphs">(keV)</text>
<text x="632.10" y="390.10" font-size="32.60" textLength="107.00" lengthAdjust="spacingAndGlyphs">Energy</text>
<text x="754.00" y="390.10" font-size="32.60" textLength="85.10" lengthAdjust="spacingAndGlyphs">(keV)</text>
<text x="131.20" y="31.30" font-size="28.80" textLength="35.80" lengthAdjust="spacingAndGlyphs">(a)</text>
<text x="529.40" y="32.90" font-size="28.80" textLength="38.60" lengthAdjust="spacingAndGlyphs">(b)</text>
<text x="116.40" y="346.60" font-size="28.80" textLength="35.80" lengthAdjust="spacingAndGlyphs">(c)</text>
<text x="215.30" y="42.00" font-size="24.80" textLength="51.60" lengthAdjust="spacingAndGlyphs">Run</text>
<text x="277.60" y="42.00" font-size="24.80" textLength="27.90" lengthAdjust="spacingAndGlyphs">10</text>
<text x="316.70" y="42.10" font-size="28.00" textLength="9.20" lengthAdjust="spacingAndGlyphs">(</text>
<text x="326.80" y="42.00" font-size="24.80" textLength="50.40" lengthAdjust="spacingAndGlyphs">19.4</text>
<text x="387.70" y="42.00" font-size="24.80" textLength="92.10" lengthAdjust="spacingAndGlyphs">ton·day</text>
<text x="480.40" y="42.10" font-size="28.00" textLength="9.20" lengthAdjust="spacingAndGlyphs">)</text>
<text x="601.20" y="38.80" font-size="24.80" textLength="51.10" lengthAdjust="spacingAndGlyphs">Run</text>
<text x="662.80" y="38.80" font-size="24.80" textLength="50.50" lengthAdjust="spacingAndGlyphs">11-1</text>
<text x="724.00" y="38.90" font-size="28.00" textLength="8.20" lengthAdjust="spacingAndGlyphs">(</text>
<text x="734.10" y="38.80" font-size="24.80" textLength="52.30" lengthAdjust="spacingAndGlyphs">24.2</text>
<text x="796.10" y="38.80" font-size="24.80" textLength="90.70" lengthAdjust="spacingAndGlyphs">ton·day</text>
<text x="887.40" y="38.90" font-size="28.00" textLength="9.20" lengthAdjust="spacingAndGlyphs">)</text>
<text x="237.90" y="348.60" font-size="24.80" textLength="46.40" lengthAdjust="spacingAndGlyphs">Run</text>
<text x="292.10" y="348.60" font-size="24.80" textLength="48.10" lengthAdjust="spacingAndGlyphs">11-2</text>
<text x="349.50" y="348.70" font-size="28.00" textLength="8.20" lengthAdjust="spacingAndGlyphs">(</text>
<text x="360.60" y="348.60" font-size="24.80" textLength="42.90" lengthAdjust="spacingAndGlyphs">37.1</text>
<text x="413.00" y="348.60" font-size="24.80" textLength="80.90" lengthAdjust="spacingAndGlyphs">ton·day</text>
<text x="495.50" y="348.70" font-size="28.00" textLength="9.20" lengthAdjust="spacingAndGlyphs">)</text>
<text transform="translate(38.30,0) rotate(-90)" x="-467.20" y="0" font-size="34.50" textLength="109.80" lengthAdjust="spacingAndGlyphs">Events</text>
<text transform="translate(37.85,0) rotate(-90)" x="-341.00" y="0" font-size="36.49" textLength="11.80" lengthAdjust="spacingAndGlyphs">(</text>
<text transform="translate(38.30,0) rotate(-90)" x="-328.20" y="0" font-size="34.50" textLength="54.60" lengthAdjust="spacingAndGlyphs">ton</text>
<text transform="translate(27.70,0) rotate(-90)" x="-253.20" y="0" font-size="24.07" textLength="13.00" lengthAdjust="spacingAndGlyphs">1</text>
<text transform="translate(38.30,0) rotate(-90)" x="-229.20" y="0" font-size="34.50" textLength="57.20" lengthAdjust="spacingAndGlyphs">day</text>
<text transform="translate(27.70,0) rotate(-90)" x="-150.20" y="0" font-size="24.07" textLength="13.00" lengthAdjust="spacingAndGlyphs">1</text>
<text transform="translate(38.30,0) rotate(-90)" x="-128.80" y="0" font-size="34.50" textLength="65.20" lengthAdjust="spacingAndGlyphs">keV</text>
<text transform="translate(27.70,0) rotate(-90)" x="-42.00" y="0" font-size="24.07" textLength="13.20" lengthAdjust="spacingAndGlyphs">1</text>
<text transform="translate(38.40,0) rotate(-90)" x="-27.40" y="0" font-size="38.86" textLength="11.00" lengthAdjust="spacingAndGlyphs">)</text>
<rect x="21.2" y="255.8" width="1.8" height="14.9"/>
<rect x="21.2" y="152.4" width="1.8" height="15.3"/>
<rect x="21.2" y="44.2" width="1.8" height="15.4"/>
<circle cx="29.8" cy="234.8" r="1.8"/>
<circle cx="29.8" cy="131.8" r="1.8"/>
</g>
<rect x="525" y="447.7" width="365" height="165.8" fill="none" stroke="#333" stroke-width="1.4" stroke-dasharray="8.8,3.7" stroke-dashoffset="6.8"/>
<g stroke="#000" stroke-width="2.2"><line x1="557.7" y1="456.4" x2="557.7" y2="504.6"/><line x1="547.4" y1="480.1" x2="568.2" y2="480.1"/></g><circle cx="557.7" cy="480.1" r="4.3"/>
<line x1="694.5" y1="480.1" x2="724.6" y2="480.1" stroke="#e81c24" stroke-width="2"/>
<line x1="534.8" y1="535.8" x2="568.0" y2="535.8" stroke="#5660a9" stroke-width="2"/>
<line x1="694.5" y1="536.0" x2="724.6" y2="536.0" stroke="#9160a4" stroke-width="2"/>
<line x1="534.8" y1="592.4" x2="568.0" y2="592.4" stroke="#f2be1e" stroke-width="2"/>
<line x1="695.0" y1="592.4" x2="724.4" y2="592.4" stroke="#6ab845" stroke-width="2"/>
<g class="t" font-family="Liberation Serif" fill="#000">
<text x="577.00" y="490.60" font-size="23.60" textLength="56.00" lengthAdjust="spacingAndGlyphs">Data</text>
<text x="736.40" y="490.60" font-size="23.60" textLength="60.30" lengthAdjust="spacingAndGlyphs">Total</text>
<text x="805.40" y="490.60" font-size="23.60" textLength="61.00" lengthAdjust="spacingAndGlyphs">fitted</text>
<text x="577.20" y="546.60" font-size="23.60" textLength="45.80" lengthAdjust="spacingAndGlyphs">Flat</text>
<text x="633.50" y="546.60" font-size="23.60" textLength="35.90" lengthAdjust="spacingAndGlyphs">ER</text>
<text x="578.20" y="602.70" font-size="23.60" textLength="86.20" lengthAdjust="spacingAndGlyphs">Tritium</text>
<text x="736.60" y="541.75" font-size="14.50" textLength="15.30" lengthAdjust="spacingAndGlyphs">85</text>
<text x="752.80" y="546.60" font-size="23.60" textLength="29.90" lengthAdjust="spacingAndGlyphs">Kr</text>
<text x="734.80" y="595.90" font-size="14.50" textLength="26.00" lengthAdjust="spacingAndGlyphs">127</text>
<text x="761.50" y="602.70" font-size="23.60" textLength="30.70" lengthAdjust="spacingAndGlyphs">Xe</text>
</g>
</svg>
</body></html>
